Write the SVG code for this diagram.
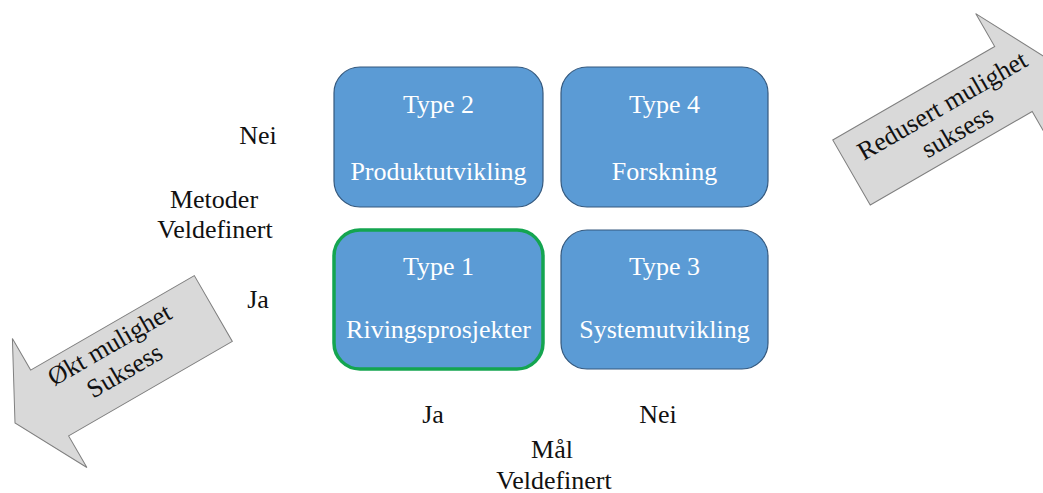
<svg xmlns="http://www.w3.org/2000/svg" width="1043" height="493" viewBox="0 0 1043 493">
  <style>
    text { font-family: "Liberation Serif", "Times New Roman", serif; font-size: 26px; text-anchor: middle; }
    .lbl { fill: #111; }
    .box rect { fill: #5B9BD5; stroke: #35597E; stroke-width: 1.2; }
    .box text { fill: #ffffff; }
    #type1 rect { stroke: #14A550; stroke-width: 3.5; }
    .arrow path { fill: #D9D9D9; stroke: #7F7F7F; stroke-width: 1; }
    .arrow text { fill: #111; }
  </style>

  <rect width="1043" height="493" fill="#ffffff"/>

  <!-- quadrant boxes -->
  <g id="type2" class="box">
    <rect x="334" y="67" width="209" height="140" rx="26"/>
    <text x="438.5" y="113">Type 2</text>
    <text x="438.5" y="180">Produktutvikling</text>
  </g>
  <g id="type4" class="box">
    <rect x="561" y="67" width="207" height="140" rx="26"/>
    <text x="664.5" y="113">Type 4</text>
    <text x="664.5" y="180">Forskning</text>
  </g>
  <g id="type1" class="box">
    <rect x="334" y="230" width="209" height="139" rx="26"/>
    <text x="438.5" y="275">Type 1</text>
    <text x="438.5" y="338">Rivingsprosjekter</text>
  </g>
  <g id="type3" class="box">
    <rect x="561" y="230" width="207" height="139" rx="26"/>
    <text x="664.5" y="275">Type 3</text>
    <text x="664.5" y="338">Systemutvikling</text>
  </g>

  <!-- axis labels -->
  <g id="axis-methods" class="lbl">
    <text class="lbl" x="258" y="144">Nei</text>
    <text class="lbl" x="214" y="208">Metoder</text>
    <text class="lbl" x="215" y="238">Veldefinert</text>
    <text class="lbl" x="258" y="308">Ja</text>
  </g>
  <g id="axis-goals" class="lbl">
    <text class="lbl" x="433" y="423">Ja</text>
    <text class="lbl" x="658" y="423">Nei</text>
    <text class="lbl" x="552" y="458">Mål</text>
    <text class="lbl" x="554" y="489">Veldefinert</text>
  </g>

  <!-- block arrows -->
  <g id="arrow-more" class="arrow" transform="translate(15 423) rotate(-30)">
    <path d="M0 0 L40 -74.5 L40 -38 L229 -38 L229 38 L40 38 L40 74.5 Z"/>
    <text x="121" y="-12">Økt mulighet</text>
    <text x="121" y="18">Suksess</text>
  </g>
  <g id="arrow-less" class="arrow" transform="translate(851.5 172.5) rotate(-30)">
    <path d="M0 -37.5 L187 -37.5 L187 -75.5 L227 0 L187 75.5 L187 37.5 L0 37.5 Z"/>
    <text x="112" y="-4">Redusert mulighet</text>
    <text x="112" y="26">suksess</text>
  </g>
</svg>
